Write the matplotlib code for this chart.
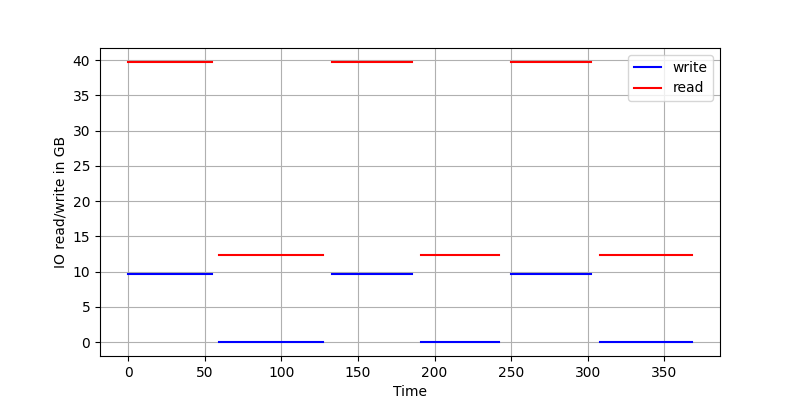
import numpy as np
import matplotlib
matplotlib.use("Agg")
import matplotlib.pyplot as plt

# phase start / end times
starts = [0, 59, 133, 191, 250, 308]
ends = [55, 127, 185, 242, 302, 368]
write_gb = [9.7, 0.0, 9.7, 0.0, 9.7, 0.0]
read_gb = [39.75, 12.4, 39.75, 12.4, 39.75, 12.4]


def segments(values):
    xs, ys = [], []
    for s, e, v in zip(starts, ends, values):
        xs += [s, e, np.nan]
        ys += [v, v, np.nan]
    return xs, ys


fig, ax = plt.subplots(figsize=(8, 4), dpi=100)

wx, wy = segments(write_gb)
rx, ry = segments(read_gb)
ax.plot(wx, wy, color='blue', label='write')
ax.plot(rx, ry, color='red', label='read')

ax.set_xlabel('Time')
ax.set_ylabel('IO read/write in GB')
ax.grid(True)
ax.legend(loc='upper right')

fig.savefig('out.png')
